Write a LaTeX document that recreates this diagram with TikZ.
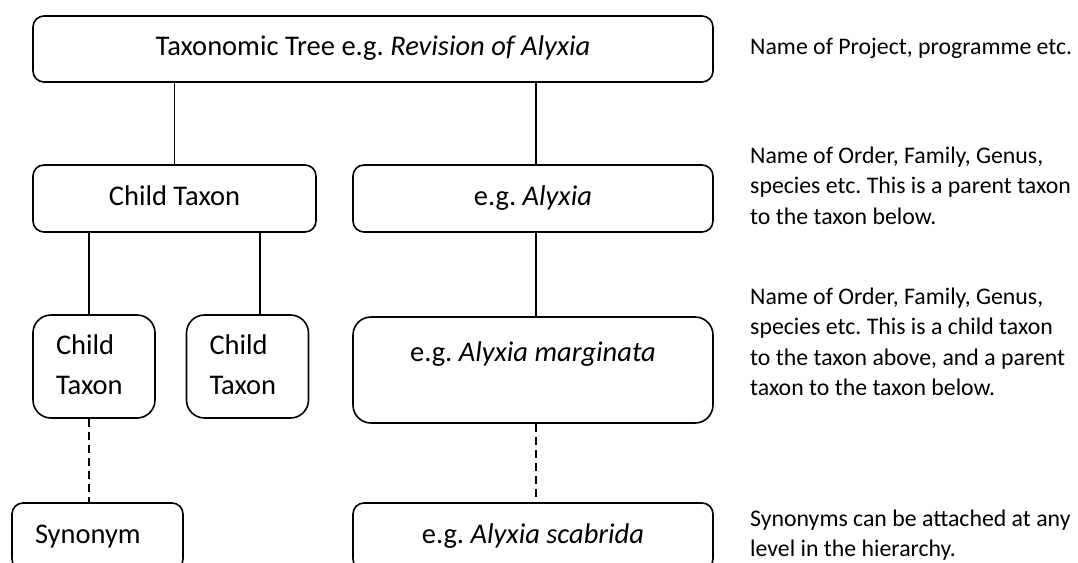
\documentclass[tikz,border=0pt]{standalone}
\usepackage{fontspec}
\setmainfont{Carlito}
\frenchspacing
\begin{document}
\begin{tikzpicture}[x=1pt,y=-1pt,
  frame/.style={draw, line width=1.6pt, rounded corners=11pt, inner sep=0pt, font=\fontsize{28.5}{36}\selectfont},
  box/.style={frame, text height=19.5pt, text depth=6pt},
  smallbox/.style={frame, rounded corners=18pt, minimum height=103pt, text width=76pt, inner xsep=23pt, align=left, font=\fontsize{28.5}{40}\selectfont},
  note/.style={anchor=north west, inner sep=0pt, align=left, font=\fontsize{23.8}{30.5}\selectfont},
  link/.style={line width=1.6pt},
  dashlink/.style={line width=1.6pt, dash pattern=on 8pt off 5pt}]
\useasboundingbox (0,0) rectangle (1078,562);
\clip (0,0) rectangle (1078,562);

\node[box, minimum width=680pt, minimum height=66pt] (top) at (373,49) {Taxonomic Tree e.g. \textit{Revision of Alyxia}};
\node[box, minimum width=283pt, minimum height=67pt] (child) at (174.5,198.5) {Child Taxon};
\node[box, minimum width=360pt, minimum height=67pt] (aly) at (533,198.5) {e.g. \textit{Alyxia}};
\node[smallbox] (s1) at (94,366.5) {\strut Child\\ Taxon\strut};
\node[smallbox] (s2) at (247.5,366.5) {\strut Child\\ Taxon\strut};
\node[frame, rounded corners=18pt, minimum width=360pt, text height=44pt, text depth=62pt] (marg) at (533,370) {e.g. \textit{Alyxia marginata}};
\node[box, minimum height=67pt, text width=125pt, inner xsep=23pt, align=left] (syn) at (97.5,536.5) {Synonym};
\node[box, minimum width=360pt, minimum height=67pt] (scab) at (533,536.5) {e.g. \textit{Alyxia scabrida}};

\node[note] (n1) at (750,32.65) {\strut Name of Project, programme etc.};
\node[note] (n2) at (750,141.65) {\strut Name of Order, Family, Genus,\\ species etc. This is a parent taxon\\ to the taxon below.};
\node[note] (n3) at (750,282.65) {\strut Name of Order, Family, Genus,\\ species etc. This is a child taxon\\ to the taxon above, and a parent\\ taxon to the taxon below.};
\node[note] (n4) at (750,504.65) {\strut Synonyms can be attached at any\\ level in the hierarchy.};

\coordinate (xa) at (89,0);
\coordinate (xb) at (260,0);
\coordinate (xc) at (536,0);

\draw[link] (top.south -| child.north) -- (child.north);
\draw[link] (top.south -| xc) -- (aly.north -| xc);
\draw[link] (child.south -| xa) -- (s1.north -| xa);
\draw[link] (child.south -| xb) -- (s2.north -| xb);
\draw[link] (aly.south -| xc) -- (marg.north -| xc);
\draw[dashlink] (s1.south -| xa) -- (syn.north -| xa);
\draw[dashlink] (marg.south -| xc) -- (scab.north -| xc);
\end{tikzpicture}
\end{document}
